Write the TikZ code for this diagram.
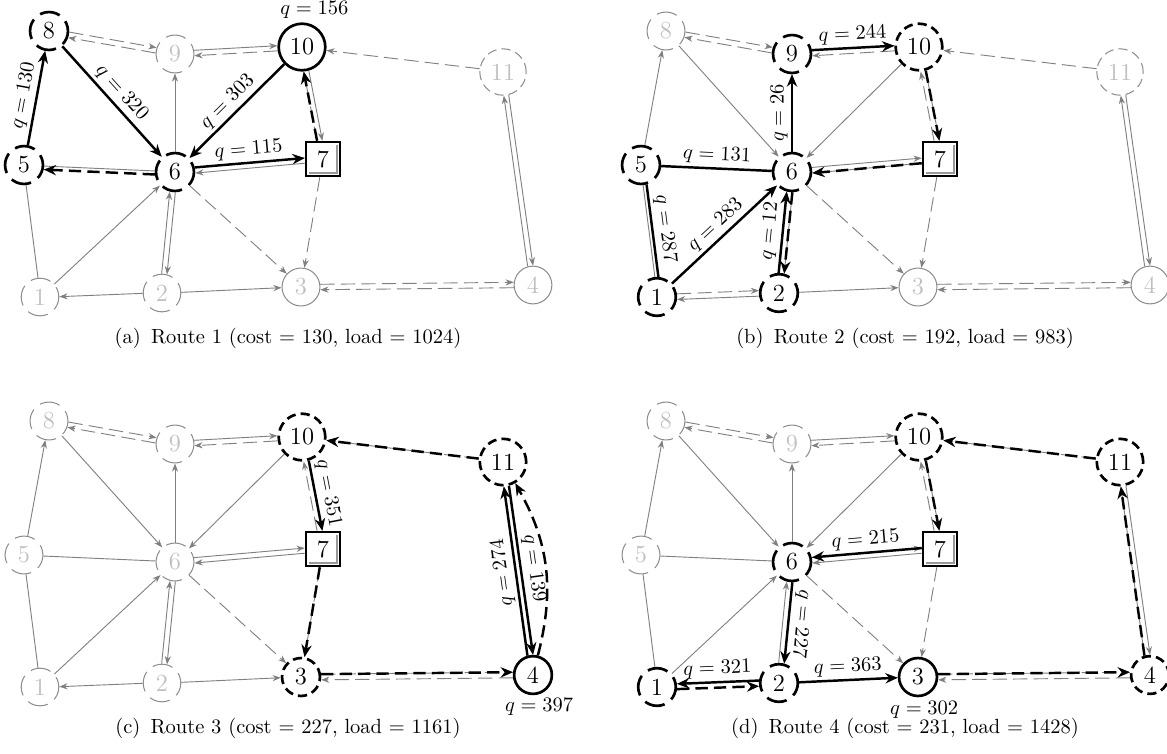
\documentclass[tikz,border=0pt]{standalone}
\usetikzlibrary{arrows.meta,calc,positioning}
\newcommand\offarc[6]{%
  \pgfmathanglebetweenpoints{\pgfpointanchor{#2}{center}}{\pgfpointanchor{#3}{center}}%
  \let\oaAng\pgfmathresult
  \pgfmathsetmacro\oaS{\oaAng+(#4)}%
  \pgfmathsetmacro\oaE{\oaAng+180-(#5)}%
  \draw[#1] (#2.\oaS) -- #6 (#3.\oaE);%
}
\newcommand\depotin[1]{%
  \draw[black!40, line width=0.7pt] ([shift={(-2pt,-2.2pt)}]#1.north east) -- ([shift={(-2pt,2pt)}]#1.south east) -- ([shift={(2.2pt,2pt)}]#1.south west);}
\newcommand\basegraph[1]{%
 \offarc{gAd}{#18}{#19}{8}{8}{}%
 \offarc{gAd}{#19}{#18}{8}{8}{}%
 \offarc{gA}{#19}{#110}{8}{6}{}%
 \offarc{gAd}{#110}{#19}{6}{8}{}%
 \offarc{gA}{#111}{#14}{6}{8}{}%
 \offarc{gA}{#14}{#111}{8}{6}{}%
 \offarc{gAd}{#13}{#14}{8}{8}{}%
 \offarc{gAd}{#14}{#13}{8}{8}{}%
 \offarc{gA}{#12}{#16}{8}{8}{}%
 \offarc{gA}{#16}{#12}{8}{8}{}%
 \offarc{gA}{#16}{#17}{8}{8}{}%
 \offarc{gA}{#17}{#16}{8}{8}{}%
 \offarc{gA}{#110}{#17}{6}{8}{}%
 \offarc{gAd}{#17}{#110}{8}{6}{}%
 \offarc{gAd}{#111}{#110}{0}{0}{}%
 \offarc{gA}{#12}{#13}{0}{0}{}%
 \offarc{gE}{#11}{#15}{0}{0}{}%
 \offarc{gA}{#15}{#18}{0}{0}{}%
 \offarc{gE}{#15}{#16}{0}{0}{}%
 \offarc{gA}{#11}{#16}{0}{0}{}%
 \offarc{gAd}{#16}{#13}{0}{0}{}%
 \offarc{gAd}{#17}{#13}{0}{0}{}%
 \offarc{gA}{#110}{#16}{0}{0}{}%
 \offarc{gA}{#18}{#16}{0}{0}{}%
 \offarc{gA}{#16}{#19}{0}{0}{}%
}
\tikzset{
 nd/.style={circle, inner sep=3pt, font=\large},
 gn/.style={nd, draw=black!45, text=black!25, line width=0.5pt},
 bn/.style={nd, draw=black, text=black, line width=1.3pt},
 pd/.style={dash pattern=on 10pt off 4pt, dash phase=5pt},
 dd/.style={dash pattern=on 4.5pt off 2.5pt},
 depot/.style={rectangle, draw=black, line width=1.3pt, minimum size=16.5pt, inner sep=2pt, font=\large},
 gA/.style={draw=black!50, line width=0.45pt, -{Stealth[length=4pt,width=3pt]}},
 gAd/.style={gA, dash pattern=on 7pt off 3pt},
 gE/.style={draw=black!50, line width=0.45pt},
 bS/.style={draw=black, line width=1.2pt, -{Stealth[length=6pt,width=5pt]}},
 bD/.style={bS, dash pattern=on 6pt off 3pt},
 bE/.style={draw=black, line width=1.2pt},
 lbl/.style={font=\normalsize, inner sep=1.5pt, text=black},
 captext/.style={font=\normalsize},
}
\begin{document}
\begin{tikzpicture}[x=0.4878pt, y=-0.4878pt]
\useasboundingbox (0,0) rectangle (1167,753);
% ---------------- (a)
\begin{scope}
\node[bn,pd] (a8) at (49,31) {8};
\node[gn,pd] (a9) at (175,54) {9};
\node[bn] (a10) at (302,47) {10};
\node[gn,dd] (a11) at (503,72) {11};
\node[bn,pd] (a5) at (24,165) {5};
\node[bn,pd] (a6) at (175,172) {6};
\node[depot] (a7) at (323,159) {7};
\node[gn,pd] (a1) at (40,297) {1};
\node[gn,pd] (a2) at (162,293) {2};
\node[gn] (a3) at (301,287) {3};
\node[gn] (a4) at (533,285) {4};
\depotin{a7}
\basegraph{a}
\offarc{gA}{a2}{a1}{0}{0}{}
\offarc{bD}{a7}{a10}{8}{6}{}
\offarc{bS}{a10}{a6}{0}{0}{node[lbl,sloped,above]{$q=303$}}
\offarc{bS}{a6}{a7}{8}{8}{node[lbl,sloped,above]{$q=115$}}
\offarc{bD}{a6}{a5}{10}{10}{}
\offarc{bS}{a5}{a8}{0}{0}{node[lbl,sloped,above]{$q=130$}}
\offarc{bS}{a8}{a6}{0}{0}{node[lbl,sloped,above]{$q=320$}}
\node[lbl, above=0pt of a10, xshift=6pt] (la10) {$q=156$};
\node[captext] (capa) at (288,338) {(a)\hspace{5pt}Route 1 (cost $=$ 130, load $=$ 1024)};
\end{scope}
% ---------------- (b)
\begin{scope}[shift={(617,0)}]
\node[gn,pd] (b8) at (49,31) {8};
\node[bn,pd] (b9) at (175,54) {9};
\node[bn,dd] (b10) at (302,47) {10};
\node[gn,dd] (b11) at (503,72) {11};
\node[bn,pd] (b5) at (24,165) {5};
\node[bn,pd] (b6) at (175,172) {6};
\node[depot] (b7) at (323,159) {7};
\node[bn,pd] (b1) at (40,297) {1};
\node[bn,pd] (b2) at (162,293) {2};
\node[gn] (b3) at (301,287) {3};
\node[gn] (b4) at (533,285) {4};
\depotin{b7}
\basegraph{b}
\offarc{gAd}{b1}{b2}{8}{8}{}
\offarc{gA}{b2}{b1}{8}{8}{}
\offarc{bD}{b7}{b6}{8}{8}{}
\offarc{bE}{b5}{b6}{0}{0}{node[lbl,sloped,above]{$q=131$}}
\offarc{bE}{b5}{b1}{10}{10}{node[lbl,sloped,above]{$q=287$}}
\offarc{bS}{b1}{b6}{0}{0}{node[lbl,sloped,above]{$q=283$}}
\offarc{bD}{b6}{b2}{8}{8}{}
\offarc{bS}{b2}{b6}{8}{8}{node[lbl,sloped,above]{$q=12$}}
\offarc{bS}{b6}{b9}{0}{0}{node[lbl,sloped,above,allow upside down]{$q=26$}}
\offarc{bS}{b9}{b10}{8}{6}{node[lbl,sloped,above]{$q=244$}}
\offarc{bD}{b10}{b7}{6}{8}{}
\node[captext] (capb) at (288,338) {(b)\hspace{5pt}Route 2 (cost $=$ 192, load $=$ 983)};
\end{scope}
% ---------------- (c)
\begin{scope}[shift={(0,390)}]
\node[gn,pd] (c8) at (49,31) {8};
\node[gn,pd] (c9) at (175,54) {9};
\node[bn,dd] (c10) at (302,47) {10};
\node[bn,dd] (c11) at (503,72) {11};
\node[gn,pd] (c5) at (24,165) {5};
\node[gn,pd] (c6) at (175,172) {6};
\node[depot] (c7) at (323,159) {7};
\node[gn,pd] (c1) at (40,297) {1};
\node[gn,pd] (c2) at (162,293) {2};
\node[bn,dd] (c3) at (301,287) {3};
\node[bn] (c4) at (533,285) {4};
\depotin{c7}
\basegraph{c}
\offarc{gA}{c2}{c1}{0}{0}{}
\offarc{bD}{c7}{c3}{0}{0}{}
\offarc{bD}{c3}{c4}{8}{8}{}
\offarc{bS}{c4}{c11}{8}{6}{node[lbl,sloped,above,allow upside down]{$q=274$}}
\offarc{bS}{c11}{c4}{6}{8}{node[lbl,sloped,above]{$q=139$}}
\draw[bD] (c4) to[bend right=22] (c11);
\offarc{bD}{c11}{c10}{0}{0}{}
\offarc{bS}{c10}{c7}{6}{8}{node[lbl,sloped,above]{$q=351$}}
\node[lbl, below=0pt of c4, xshift=3pt] (lc4) {$q=397$};
\node[captext] (capc) at (288,338) {(c)\hspace{5pt}Route 3 (cost $=$ 227, load $=$ 1161)};
\end{scope}
% ---------------- (d)
\begin{scope}[shift={(617,390)}]
\node[gn,pd] (d8) at (49,31) {8};
\node[gn,pd] (d9) at (175,54) {9};
\node[bn,dd] (d10) at (302,47) {10};
\node[bn,dd] (d11) at (503,72) {11};
\node[gn,pd] (d5) at (24,165) {5};
\node[bn,pd] (d6) at (175,172) {6};
\node[depot] (d7) at (323,159) {7};
\node[bn,pd] (d1) at (40,297) {1};
\node[bn,pd] (d2) at (162,293) {2};
\node[bn] (d3) at (301,287) {3};
\node[bn,dd] (d4) at (533,285) {4};
\depotin{d7}
\basegraph{d}
\offarc{bS}{d7}{d6}{-8}{-8}{node[lbl,sloped,above]{$q=215$}}
\offarc{bS}{d6}{d2}{8}{8}{node[lbl,sloped,above,allow upside down]{$q=227$}}
\offarc{bS}{d2}{d1}{-8}{-8}{node[lbl,sloped,above]{$q=321$}}
\offarc{bD}{d1}{d2}{-8}{-8}{}
\offarc{bS}{d2}{d3}{0}{0}{node[lbl,sloped,above]{$q=363$}}
\offarc{bD}{d3}{d4}{8}{8}{}
\offarc{bD}{d4}{d11}{8}{6}{}
\offarc{bD}{d11}{d10}{0}{0}{}
\offarc{bD}{d10}{d7}{6}{8}{}
\node[lbl, below=0pt of d3, xshift=3pt] (ld3) {$q=302$};
\node[captext] (capd) at (288,338) {(d)\hspace{5pt}Route 4 (cost $=$ 231, load $=$ 1428)};
\end{scope}
\end{tikzpicture}
\end{document}
